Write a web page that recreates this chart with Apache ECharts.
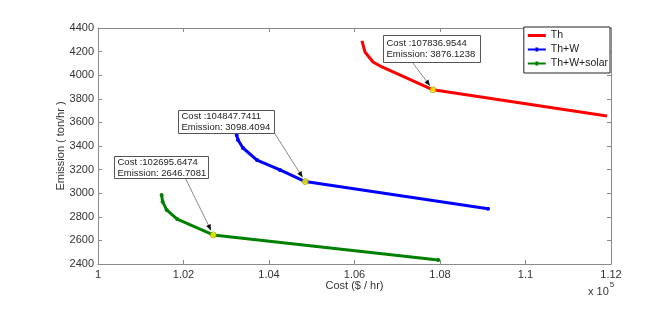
<!DOCTYPE html>
<html><head><meta charset="utf-8">
<script src="https://cdn.jsdelivr.net/npm/echarts@6/dist/echarts.min.js"></script>
<style>html,body{margin:0;padding:0;background:#fff}#c{width:663px;height:312px}</style>
</head><body><div id="c"></div>
<script>
const seriesNames = ['Th', 'Th+W', 'Th+W+solar'];
const costTh = [106175, 106245, 106433, 106643, 107228, 107836.9544, 111906];
const emisTh = [4290, 4197, 4112, 4070, 3976, 3876.1238, 3654];
const costThW = [103244, 103275, 103392, 103719, 104257, 104847.7411, 109123];
const emisThW = [3493, 3451, 3383, 3281, 3197, 3098.4094, 2869];
const costSolar = [101488, 101511, 101605, 101853, 102695.6474, 107960];
const emisSolar = [2985, 2928, 2858, 2781, 2646.7081, 2434];
// annotated points (index into each series)
const annotIdx = [5, 5, 4];
const xTicks = [100000, 112000, 2000];
const yTicks = [2400, 4400, 200];

const FONT = '"Liberation Sans", Arial, sans-serif';
const zip = (a, b) => a.map((v, i) => [v, b[i]]);
const colors = ['#ff0000', '#0000ff', '#008000'];
const costs = [costTh, costThW, costSolar];
const emis = [emisTh, emisThW, emisSolar];

const chart = echarts.init(document.getElementById('c'), null, {renderer: 'canvas'});
const axisLine = {show: true, lineStyle: {color: '#8a8a8a', width: 1}};
const tick = {show: true, inside: true, length: 4, lineStyle: {color: '#8a8a8a'}};
const lbl = {color: '#333', fontSize: 11, fontFamily: FONT};

const series = seriesNames.map((n, i) => ({
  name: n, type: 'line', data: zip(costs[i], emis[i]),
  symbol: i === 0 ? 'none' : 'circle', symbolSize: 4, showSymbol: i !== 0,
  lineStyle: {color: colors[i], width: 3}, itemStyle: {color: colors[i]},
  animation: false, z: 2
}));
series.push({
  type: 'scatter', name: 'hl', data: annotIdx.map((k, i) => [costs[i][k], emis[i][k]]),
  symbol: 'circle', symbolSize: 6, itemStyle: {color: '#ffff00', borderColor: '#8a8a00', borderWidth: 0.8},
  animation: false, z: 5
});

const dotLine = 'path://M0,0.9L18,0.9L18,3.1L0,3.1Z M7.6,0L10.4,0L10.4,4L7.6,4Z';
chart.setOption({
  animation: false,
  grid: {left: 98, right: 52, top: 28, bottom: 48},
  legend: {
    data: seriesNames.map((n, i) => ({name: n, icon: i === 0 ? 'path://M0,0.5L18,0.5L18,3.5L0,3.5Z' : dotLine})),
    orient: 'vertical', right: 53, top: 27, itemWidth: 18, itemHeight: 4, itemGap: 1,
    backgroundColor: '#fff', borderColor: '#222', borderWidth: 1, padding: [2, 2, 3, 4],
    textStyle: {color: '#222', fontSize: 10.5, lineHeight: 13, fontFamily: FONT},
    selectedMode: false
  },
  xAxis: [
    {type: 'value', min: xTicks[0], max: xTicks[1], interval: xTicks[2], position: 'bottom',
     axisLine, axisTick: tick, splitLine: {show: false},
     axisLabel: {...lbl, margin: 5, formatter: v => String(+(v / 1e5).toFixed(2))},
     name: 'Cost ($ / hr)', nameLocation: 'middle', nameGap: 16, nameMoveOverlap: false,
     nameTextStyle: {color: '#333', fontSize: 11, fontFamily: FONT}},
    {type: 'value', min: xTicks[0], max: xTicks[1], interval: xTicks[2], position: 'top',
     axisLine, axisTick: tick, splitLine: {show: false}, axisLabel: {show: false}}
  ],
  yAxis: [
    {type: 'value', min: yTicks[0], max: yTicks[1], interval: yTicks[2], position: 'left',
     axisLine, axisTick: tick, splitLine: {show: false},
     axisLabel: {...lbl, margin: 4, formatter: v => String(v)},
     name: 'Emission ( ton/hr )', nameLocation: 'middle', nameGap: 32, nameMoveOverlap: false,
     nameTextStyle: {color: '#333', fontSize: 11, fontFamily: FONT}},
    {type: 'value', min: yTicks[0], max: yTicks[1], interval: yTicks[2], position: 'right',
     axisLine, axisTick: tick, splitLine: {show: false}, axisLabel: {show: false}}
  ],
  series
});

// annotation boxes positioned relative to the annotated point
const boxOff = [[-50, -55, 97, 27], [-127, -72, 96, 23], [-99, -79, 94, 22]];
const textOff = [2.5, 0, 0];
const arrowFrom = [[29, 27], [95, 21], [71, 22]]; // relative to box top-left
const graphics = [];
annotIdx.forEach((k, i) => {
  const c = costs[i][k], e = emis[i][k];
  const p = chart.convertToPixel({seriesIndex: i}, [c, e]);
  const [ox, oy, w, h] = boxOff[i];
  const bx = Math.round(p[0] + ox) + 0.5, by = Math.round(p[1] + oy) + 0.5;
  graphics.push({type: 'rect', shape: {x: bx, y: by, width: w, height: h},
    style: {fill: '#fff', stroke: '#555', lineWidth: 1}, z: 10});
  graphics.push({type: 'text', x: bx + 3, y: by + textOff[i], z: 11,
    style: {text: 'Cost :' + c.toFixed(4) + '\nEmission: ' + e.toFixed(4),
      fill: '#222', font: '9.5px ' + FONT, lineHeight: 11}});
  const sx = bx + arrowFrom[i][0], sy = by + arrowFrom[i][1];
  const dx = p[0] - sx, dy = p[1] - sy, L = Math.hypot(dx, dy);
  const ux = dx / L, uy = dy / L;
  const tx = p[0] - ux * 5, ty = p[1] - uy * 5;
  graphics.push({type: 'line', shape: {x1: sx, y1: sy, x2: tx, y2: ty},
    style: {stroke: '#555', lineWidth: 0.7}, z: 9});
  const al = 6, aw = 2.5;
  graphics.push({type: 'polygon', z: 9, shape: {points: [
    [tx, ty], [tx - ux * al - uy * aw, ty - uy * al + ux * aw],
    [tx - ux * al + uy * aw, ty - uy * al - ux * aw]]},
    style: {fill: '#111'}});
});
graphics.push({type: 'text', x: 588, y: 281, z: 11,
  style: {text: '{a|x 10}{b|5}', rich: {
    a: {fontSize: 11, fontFamily: FONT, fill: '#333', verticalAlign: 'bottom'},
    b: {fontSize: 8, fontFamily: FONT, fill: '#333', verticalAlign: 'top', padding: [0, 0, 8, 1]}}}});
chart.setOption({graphic: graphics});
</script></body></html>
